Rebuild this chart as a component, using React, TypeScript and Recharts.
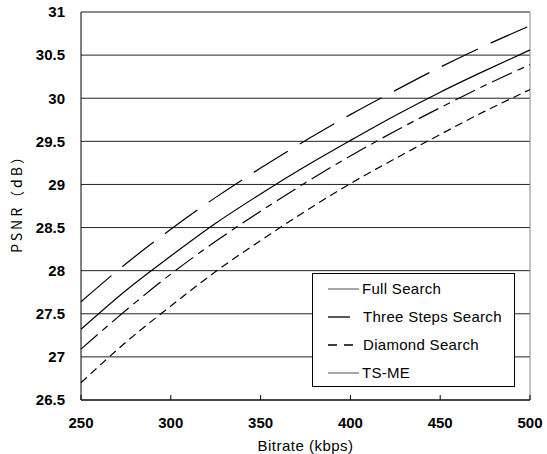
import { LineChart, Line, XAxis, YAxis, CartesianGrid, ReferenceLine, Legend, Label } from 'recharts'

const bitrates = [250, 275, 300, 325, 350, 375, 400, 425, 450, 475, 500]

const tsMe = [27.64, 28.08, 28.48, 28.85, 29.19, 29.51, 29.81, 30.09, 30.36, 30.61, 30.84]
const fullSearch = [27.32, 27.77, 28.17, 28.55, 28.89, 29.21, 29.51, 29.8, 30.07, 30.32, 30.56]
const threeSteps = [27.09, 27.54, 27.96, 28.34, 28.69, 29.02, 29.33, 29.62, 29.89, 30.15, 30.39]
const diamond = [26.7, 27.17, 27.59, 27.99, 28.35, 28.69, 29.01, 29.3, 29.58, 29.85, 30.1]

const xTicks = [250, 300, 350, 400, 450, 500]
const yTicks = [26.5, 27, 27.5, 28, 28.5, 29, 29.5, 30, 30.5, 31]

const data = bitrates.map((b, i) => ({
  bitrate: b,
  tsMe: tsMe[i],
  fullSearch: fullSearch[i],
  threeSteps: threeSteps[i],
  diamond: diamond[i],
}))

const series = [
  { key: 'tsMe', dash: '40 14' },
  { key: 'fullSearch', dash: undefined },
  { key: 'threeSteps', dash: '22 6 7 6' },
  { key: 'diamond', dash: '8 5' },
]

const legendRows = [
  { name: 'Full Search', color: '#777', x2: 47, dash: undefined, tx: 50 },
  { name: 'Three Steps Search', color: '#000', x2: 38, dash: undefined, tx: 51 },
  { name: 'Diamond Search', color: '#000', x2: 47, dash: '9 7', tx: 51 },
  { name: 'TS-ME', color: '#777', x2: 47, dash: undefined, tx: 50 },
]

const tickFont = { fontFamily: '"Liberation Sans", Arial, sans-serif', fontWeight: 700, fontSize: 15, fill: '#000' }

const LegendBox = () => (
  <svg width={203} height={114} style={{ display: 'block' }}>
    <rect x={0.5} y={0.5} width={202} height={113} fill="#fff" stroke="#000" />
    {legendRows.map((row, i) => {
      const cy = 16 + i * 28
      return (
        <g key={row.name}>
          <line x1={16} x2={row.x2} y1={cy} y2={cy} stroke={row.color} strokeWidth={1.3} strokeDasharray={row.dash} />
          <text
            x={row.tx}
            y={cy}
            dy="0.35em"
            fontFamily='"Liberation Sans", Arial, sans-serif'
            fontSize={15}
            letterSpacing={0.3}
            fill="#000"
          >
            {row.name}
          </text>
        </g>
      )
    })}
  </svg>
)

export default function App() {
  return (
    <div style={{ position: 'absolute', left: 0, top: 0, background: '#fff' }}>
      <LineChart width={547} height={454} data={data} margin={{ top: 12, right: 17, left: 0, bottom: 0 }}>
        <CartesianGrid horizontal vertical={false} stroke="#222" strokeOpacity={1} />
        <XAxis
          dataKey="bitrate"
          type="number"
          domain={[250, 500]}
          ticks={xTicks}
          height={54}
          axisLine={{ stroke: '#000' }}
          tickLine={{ stroke: '#000' }}
          tickSize={-5}
          tickMargin={22}
          tick={tickFont}
        >
          <Label
            content={(props: any) => {
              const vb = props.viewBox || {}
              return (
                <text
                  x={vb.x + vb.width / 2}
                  y={451}
                  textAnchor="middle"
                  fontFamily='"Liberation Sans", Arial, sans-serif'
                  fontSize={15}
                  letterSpacing={0.5}
                  fill="#000"
                >
                  Bitrate (kbps)
                </text>
              )
            }}
          />
        </XAxis>
        <YAxis
          type="number"
          domain={[26.5, 31]}
          ticks={yTicks}
          width={81}
          axisLine={{ stroke: '#000' }}
          tickLine={false}
          tickSize={6}
          tickMargin={10}
          tick={tickFont}
        >
          <Label
            content={(props: any) => {
              const vb = props.viewBox || {}
              const cx = 17
              const cy = vb.y + vb.height / 2 - 6
              return (
                <text
                  x={cx}
                  y={cy}
                  transform={`rotate(-90 ${cx} ${cy})`}
                  textAnchor="middle"
                  dy="0.35em"
                  fontFamily='"Noto Sans CJK JP", sans-serif'
                  fontSize={14}
                  letterSpacing={3}
                  fill="#000"
                >
                  PSNR（dB）
                </text>
              )
            }}
          />
        </YAxis>
        <ReferenceLine y={31} stroke="#888" />
        <ReferenceLine x={500} stroke="#888" />
        {series.map((s) => (
          <Line
            key={s.key}
            dataKey={s.key}
            type="monotone"
            stroke="#000"
            strokeWidth={1.2}
            strokeDasharray={s.dash}
            dot={false}
            activeDot={false}
            isAnimationActive={false}
          />
        ))}
        <Legend
          layout="vertical"
          align="center"
          verticalAlign="middle"
          content={() => <LegendBox />}
          wrapperStyle={{ left: 312, top: 273, width: 203, height: 114, bottom: 'auto', right: 'auto' }}
        />
      </LineChart>
    </div>
  )
}
